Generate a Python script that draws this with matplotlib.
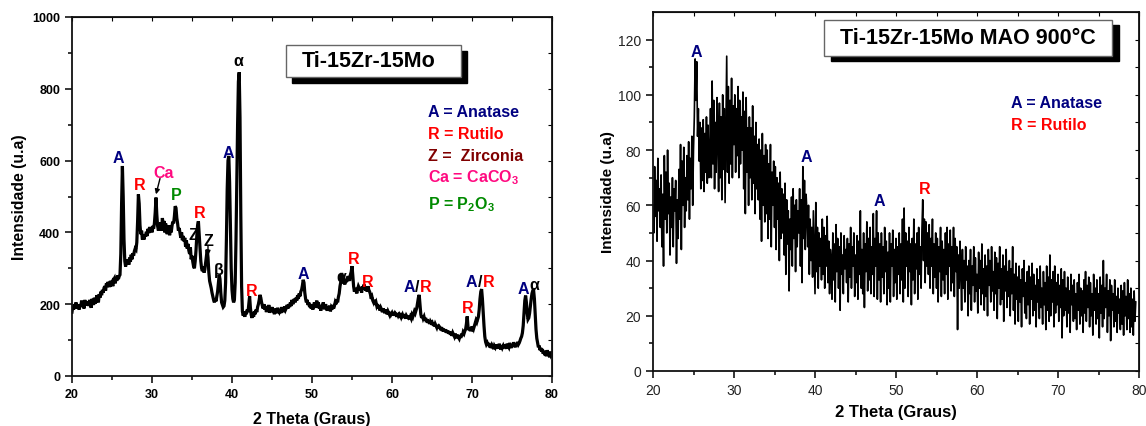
import numpy as np
import matplotlib.pyplot as plt
from matplotlib.patches import Rectangle

plt.rcParams['font.family'] = ['Liberation Sans', 'DejaVu Sans']
plt.rcParams['mathtext.fontset'] = 'custom'
plt.rcParams['mathtext.rm'] = 'Liberation Sans'
plt.rcParams['mathtext.bf'] = 'Liberation Sans:bold'

# XRD scans, step 0.1 deg starting at 2theta = 20
scan_start = 20.0
scan_step = 0.1

# Ti-15Zr-15Mo as received (one row per degree)
counts_base = [
    178, 195, 185, 200, 190, 205, 188, 198, 192, 185,
    200, 192, 210, 195, 203, 188, 212, 198, 205, 196,
    208, 195, 212, 200, 190, 215, 205, 198, 218, 202,
    210, 225, 215, 205, 228, 218, 235, 225, 240, 232,
    245, 250, 238, 258, 248, 262, 255, 248, 265, 258,
    262, 250, 268, 272, 258, 275, 265, 280, 270, 278,
    282, 340, 480, 585, 500, 380, 320, 305, 318, 312,
    325, 310, 330, 318, 338, 325, 342, 335, 348, 355,
    352, 372, 430, 506, 480, 420, 395, 405, 380, 388,
    380, 395, 388, 402, 390, 410, 398, 415, 405, 412,
    400, 418, 410, 425, 455, 497, 450, 418, 405, 420,
    412, 428, 405, 440, 418, 432, 400, 425, 410, 395,
    408, 420, 392, 412, 400, 418, 430, 425, 445, 473,
    468, 440, 425, 405, 412, 398, 385, 400, 378, 390,
    375, 385, 360, 378, 355, 368, 350, 340, 358, 325,
    335, 318, 305, 300, 320, 350, 390, 420, 431, 395,
    360, 320, 300, 292, 305, 288, 296, 315, 335, 352,
    330, 290, 265, 255, 245, 232, 222, 212, 205, 215,
    208, 222, 235, 258, 282, 270, 232, 205, 198, 192,
    195, 210, 260, 380, 520, 600, 613, 540, 420, 300,
    240, 215, 205, 212, 260, 380, 540, 700, 820, 846,
    720, 450, 250, 180, 168, 175, 165, 180, 172, 185,
    178, 200, 222, 190, 170, 162, 175, 165, 180, 172,
    185, 178, 192, 200, 212, 226, 218, 205, 195, 188,
    200, 185, 195, 178, 190, 182, 198, 176, 188, 180,
    192, 178, 185, 172, 188, 180, 175, 190, 182, 178,
    185, 175, 192, 180, 186, 178, 194, 185, 190, 198,
    188, 200, 192, 205, 195, 212, 200, 208, 215, 205,
    218, 210, 225, 215, 230, 222, 235, 240, 252, 268,
    260, 232, 215, 205, 212, 198, 205, 192, 200, 188,
    198, 185, 195, 205, 190, 200, 210, 192, 205, 188,
    195, 182, 198, 188, 205, 192, 186, 200, 190, 182,
    192, 185, 196, 180, 190, 185, 198, 188, 195, 205,
    200, 212, 205, 220, 230, 250, 262, 287, 270, 258,
    265, 255, 270, 262, 268, 278, 272, 265, 282, 290,
    306, 280, 250, 235, 245, 238, 230, 242, 250, 245,
    238, 245, 232, 250, 242, 255, 248, 238, 245, 235,
    250, 240, 235, 228, 215, 220, 210, 205, 212, 200,
    205, 195, 200, 188, 195, 182, 190, 185, 178, 188,
    182, 175, 185, 178, 172, 180, 175, 170, 178, 172,
    176, 170, 178, 168, 175, 172, 165, 175, 168, 172,
    168, 175, 165, 170, 162, 172, 166, 160, 168, 164,
    162, 168, 158, 165, 160, 170, 165, 172, 180, 175,
    182, 190, 205, 218, 226, 200, 172, 162, 168, 160,
    165, 155, 162, 150, 158, 148, 155, 145, 152, 148,
    150, 142, 148, 138, 145, 140, 135, 142, 132, 138,
    135, 128, 136, 125, 132, 124, 130, 122, 128, 120,
    126, 118, 124, 115, 122, 112, 120, 115, 110, 118,
    112, 105, 115, 108, 104, 112, 106, 118, 112, 122,
    118, 125, 130, 145, 166, 138, 128, 135, 125, 132,
    130, 138, 132, 140, 148, 155, 150, 158, 165, 185,
    215, 235, 242, 215, 175, 140, 110, 95, 88, 92,
    85, 92, 80, 88, 78, 86, 82, 75, 84, 80,
    88, 78, 85, 76, 90, 80, 74, 86, 79, 84,
    78, 88, 82, 76, 90, 84, 80, 92, 85, 78,
    88, 82, 94, 86, 80, 90, 84, 95, 88, 92,
    98, 105, 110, 120, 140, 175, 210, 224, 205, 175,
    158, 162, 175, 195, 215, 230, 238, 239, 215, 170,
    130, 105, 92, 80, 85, 72, 78, 68, 75, 62,
    70, 58, 66, 55, 72, 60, 65, 52, 68, 58,
    62,
]

# Ti-15Zr-15Mo after MAO and 900 C treatment
counts_mao = [
    60, 50, 74, 56, 69, 47, 77, 58, 66, 52,
    71, 45, 64, 38, 78, 55, 72, 50, 80, 57,
    68, 42, 63, 52, 70, 45, 66, 58, 69, 39,
    62, 48, 73, 55, 82, 44, 76, 60, 81, 52,
    70, 58, 78, 62, 83, 55, 77, 66, 85, 60,
    80, 92, 113, 98, 112, 85, 95, 76, 90, 66,
    88, 69, 91, 65, 86, 72, 92, 68, 89, 70,
    78, 95, 70, 105, 75, 98, 66, 90, 72, 99,
    84, 65, 97, 70, 92, 62, 100, 73, 95, 61,
    88, 114, 72, 103, 68, 98, 75, 106, 70, 96,
    82, 100, 72, 95, 78, 103, 70, 98, 75, 92,
    80, 101, 66, 94, 57, 99, 72, 88, 60, 92,
    70, 88, 62, 96, 68, 85, 57, 90, 66, 82,
    62, 84, 55, 80, 47, 86, 60, 78, 54, 82,
    57, 80, 48, 75, 55, 82, 45, 72, 60, 76,
    52, 74, 44, 70, 55, 68, 40, 72, 48, 66,
    50, 64, 42, 68, 35, 62, 46, 58, 29, 55,
    44, 63, 38, 66, 48, 60, 36, 62, 45, 58,
    50, 66, 38, 62, 32, 74, 48, 69, 44, 64,
    58, 45, 60, 35, 55, 40, 52, 34, 58, 42,
    28, 61, 36, 52, 30, 50, 38, 48, 33, 55,
    35, 52, 30, 49, 38, 56, 32, 47, 28, 44,
    40, 26, 50, 33, 46, 25, 53, 36, 48, 30,
    45, 22, 50, 35, 42, 28, 49, 37, 44, 32,
    48, 25, 46, 34, 52, 30, 45, 38, 50, 27,
    42, 32, 49, 26, 47, 35, 58, 30, 44, 28,
    50, 23, 46, 36, 54, 29, 48, 33, 52, 28,
    45, 35, 57, 27, 48, 38, 58, 26, 50, 33,
    46, 25, 50, 34, 45, 28, 52, 36, 47, 24,
    43, 30, 50, 25, 46, 38, 51, 27, 44, 32,
    48, 26, 45, 35, 50, 28, 46, 33, 55, 25,
    59, 30, 50, 38, 47, 27, 52, 36, 46, 24,
    48, 33, 55, 28, 46, 37, 50, 26, 52, 35,
    45, 30, 51, 62, 40, 55, 32, 54, 38, 50,
    35, 53, 30, 48, 38, 55, 28, 46, 34, 50,
    30, 48, 25, 45, 36, 52, 27, 47, 33, 44,
    28, 50, 35, 52, 26, 46, 38, 51, 29, 45,
    32, 52, 27, 48, 36, 45, 15, 42, 30, 47,
    36, 22, 44, 30, 40, 25, 45, 33, 38, 20,
    40, 28, 44, 22, 38, 31, 45, 25, 41, 29,
    35, 21, 43, 30, 40, 24, 46, 28, 37, 22,
    42, 27, 38, 20, 44, 31, 40, 25, 45, 29,
    36, 22, 43, 28, 41, 19, 39, 30, 45, 24,
    37, 26, 42, 18, 38, 29, 44, 23, 36, 27,
    40, 20, 37, 28, 45, 22, 35, 17, 39, 26,
    34, 18, 38, 25, 33, 16, 37, 27, 40, 21,
    32, 19, 36, 24, 38, 17, 34, 26, 39, 20,
    35, 22, 31, 16, 37, 25, 33, 19, 38, 23,
    30, 17, 36, 24, 32, 15, 38, 22, 34, 18,
    42, 20, 33, 25, 36, 16, 38, 21, 32, 24,
    35, 18, 31, 23, 37, 12, 33, 20, 36, 22,
    30, 16, 34, 21, 29, 14, 35, 24, 31, 18,
    33, 19, 28, 15, 32, 22, 35, 17, 30, 20,
    29, 14, 33, 21, 36, 18, 31, 23, 34, 16,
    32, 20, 28, 13, 35, 22, 30, 17, 33, 19,
    28, 12, 34, 21, 31, 16, 40, 19, 30, 23,
    35, 14, 29, 20, 33, 11, 31, 22, 28, 16,
    33, 18, 27, 14, 30, 21, 26, 15, 31, 17,
    29, 13, 32, 20, 27, 15, 33, 19, 28, 14,
    30, 16, 26, 13, 29, 18, 25,
]

# phase labels: (text, 2theta, intensity baseline, colour key)
peaks_base = [
    ('A', 25.8, 595, 'A'), ('R', 28.5, 520, 'R'), ('Ca', 31.4, 553, 'Ca'),
    ('P', 33.0, 492, 'P'), ('R', 35.95, 444, 'R'), ('Z', 35.15, 381, 'k'),
    ('Z', 37.0, 366, 'k'), ('β', 38.4, 285, 'k'), ('A', 39.6, 611, 'A'),
    ('α', 40.75, 867, 'k'), ('R', 42.4, 226, 'R'), ('A', 48.9, 273, 'A'),
    ('α', 53.7, 266, 'k'), ('R', 55.2, 315, 'R'), ('R', 57.0, 252, 'R'),
    ('R', 69.5, 177, 'R'), ('A', 76.4, 231, 'A'), ('α', 77.85, 242, 'k'),
]
mixed_base = [(63.15, 238), (71.0, 252)]  # "A/R" labels: slash x, baseline

peaks_mao = [
    ('A', 25.35, 114, 'A'), ('A', 38.9, 76, 'A'),
    ('A', 47.9, 60, 'A'), ('R', 53.5, 64.4, 'R'),
]

legend_base = [
    ('A = Anatase', 723, 'A'),
    ('R = Rutilo', 662, 'R'),
    ('Z =  Zirconia', 601, 'Z'),
    ('Ca = CaCO$_\\mathbf{3}$', 543, 'Ca'),
    ('P = P$_\\mathbf{2}$O$_\\mathbf{3}$', 466, 'P'),
]
legend_mao = [('A = Anatase', 95.5, 'A'), ('R = Rutilo', 87.6, 'R')]

colors = {'A': '#000080', 'R': '#ff0000', 'Z': '#800000',
          'Ca': '#ff0a80', 'P': '#008a00', 'k': 'black'}


def two_theta(counts):
    return scan_start + scan_step * np.arange(len(counts))


def style_axes(ax, ymax, ymajor, ticksize, tickweight, tickcolor):
    ax.set_xlim(20, 80)
    ax.set_ylim(0, ymax)
    ax.set_xticks(np.arange(20, 81, 10))
    ax.set_xticks(np.arange(25, 80, 10), minor=True)
    ax.set_yticks(np.arange(0, ymax + 1, ymajor))
    ax.set_yticks(np.arange(ymajor / 2, ymax, ymajor), minor=True)
    ax.tick_params(which='major', direction='out', length=5, width=1.1,
                   labelsize=ticksize, labelcolor=tickcolor)
    ax.tick_params(which='minor', direction='out', length=3, width=1.1)
    for lab in ax.get_xticklabels() + ax.get_yticklabels():
        lab.set_fontweight(tickweight)
    for sp in ax.spines.values():
        sp.set_linewidth(1.3)
        sp.set_color('#111111')
    # inward ticks on the top and right frame
    top = ax.secondary_xaxis('top')
    top.set_xticks(np.arange(20, 81, 5))
    top.tick_params(direction='in', length=3, labeltop=False)
    right = ax.secondary_yaxis('right')
    right.set_yticks(np.arange(0, ymax + 1, ymajor / 2))
    right.tick_params(direction='in', length=3, labelright=False)


def title_box(ax, text, x0, x1, y0, y1, dx, dy, tx, ty):
    ax.add_patch(Rectangle((x0 + dx, y0 - dy), x1 - x0, y1 - y0,
                           transform=ax.transAxes, facecolor='black',
                           edgecolor='black', zorder=5, clip_on=False))
    ax.add_patch(Rectangle((x0, y0), x1 - x0, y1 - y0,
                           transform=ax.transAxes, facecolor='white',
                           edgecolor='#666666', lw=1, zorder=6, clip_on=False))
    ax.text(tx, ty, text, transform=ax.transAxes, ha='center', va='center',
            fontsize=15.5, fontweight='bold', zorder=7)


fig = plt.figure(figsize=(11.46, 4.27), dpi=100)
ax1 = fig.add_axes([72 / 1146, 50 / 427, 480 / 1146, 359 / 427])
ax2 = fig.add_axes([653 / 1146, 55 / 427, 486 / 1146, 359 / 427])

# left: as received
ax1.plot(two_theta(counts_base), counts_base, color='black', lw=2.3,
         solid_joinstyle='miter')
style_axes(ax1, 1000, 200, 9, 'bold', 'black')
ax1.set_xlabel('2 Theta (Graus)', fontsize=11.5, fontweight='bold')
ax1.set_ylabel('Intensidade (u.a)', fontsize=11.3, fontweight='bold')
ax1.xaxis.set_label_coords(0.5, -0.097)
ax1.yaxis.set_label_coords(-0.094, 0.5)

for txt, x, y, key in peaks_base:
    ax1.text(x, y, txt, color=colors[key], ha='center', va='baseline',
             fontsize=11.5, fontweight='bold')
for x, y in mixed_base:
    ax1.annotate('A', (x, y), xytext=(-1.8, 0), textcoords='offset points',
                 ha='right', va='baseline', color=colors['A'],
                 fontsize=11.5, fontweight='bold')
    ax1.annotate('/', (x, y), ha='center', va='baseline', color='black',
                 fontsize=11.5, fontweight='bold')
    ax1.annotate('R', (x, y), xytext=(1.8, 0), textcoords='offset points',
                 ha='left', va='baseline', color=colors['R'],
                 fontsize=11.5, fontweight='bold')

arrow = dict(arrowstyle='-|>', color='black', lw=1, mutation_scale=7,
             shrinkA=0, shrinkB=0)
ax1.annotate('', xy=(30.5, 506), xytext=(31.0, 550), arrowprops=arrow)
ax1.annotate('', xy=(37.0, 335), xytext=(37.0, 362), arrowprops=arrow)

for txt, y, key in legend_base:
    ax1.text(64.5, y, txt, color=colors[key], ha='left', va='baseline',
             fontsize=11.5, fontweight='bold')

title_box(ax1, 'Ti-15Zr-15Mo', 0.4458, 0.8104, 0.8329, 0.922,
          0.0125, 0.0167, 0.618, 0.878)

# right: after MAO at 900 C
ax2.plot(two_theta(counts_mao), counts_mao, color='black', lw=1.2)
style_axes(ax2, 130, 20, 10, 'normal', '#222222')
ax2.set_xlabel('2 Theta (Graus)', fontsize=12, fontweight='bold')
ax2.set_ylabel('Intensidade (u.a)', fontsize=11, fontweight='bold')
ax2.xaxis.set_label_coords(0.5, -0.092)
ax2.yaxis.set_label_coords(-0.078, 0.5)

for txt, x, y, key in peaks_mao:
    ax2.text(x, y, txt, color=colors[key], ha='center', va='baseline',
             fontsize=11.5, fontweight='bold')
for txt, y, key in legend_mao:
    ax2.text(64.2, y, txt, color=colors[key], ha='left', va='baseline',
             fontsize=11.5, fontweight='bold')

title_box(ax2, 'Ti-15Zr-15Mo MAO 900°C', 0.3519, 0.9444, 0.8774, 0.9777,
          0.0144, 0.0139, 0.648, 0.9276)

fig.savefig('out.png', dpi=100)
